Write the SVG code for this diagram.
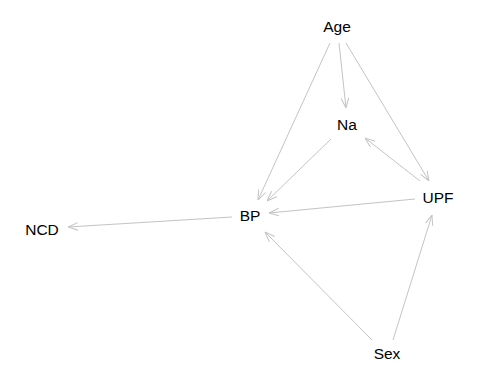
<svg xmlns="http://www.w3.org/2000/svg" width="480" height="384" viewBox="0 0 480 384">
  <style>
    .edge { stroke: #c4c4c4; stroke-width: 1; fill: none; marker-end: url(#arrow); }
    .label { font-family: "Liberation Sans", Arial, sans-serif; font-size: 15.5px; fill: #000; text-anchor: middle; }
  </style>
  <defs>
    <marker id="arrow" viewBox="0 0 10 10" refX="10" refY="5" markerWidth="10" markerHeight="10" markerUnits="userSpaceOnUse" orient="auto">
      <path d="M0,1.2 L10,5 L0,8.8" fill="none" stroke="#c4c4c4" stroke-width="1"/>
    </marker>
  </defs>
  <rect width="480" height="384" fill="#ffffff"/>
  <g id="connectors">
    <line class="edge" x1="330" y1="43" x2="258" y2="200"/>
    <line class="edge" x1="339" y1="43" x2="346" y2="108"/>
    <line class="edge" x1="346" y1="43" x2="429" y2="181"/>
    <line class="edge" x1="331" y1="139" x2="267" y2="201"/>
    <line class="edge" x1="420" y1="181" x2="365" y2="138"/>
    <line class="edge" x1="415" y1="199" x2="269" y2="213"/>
    <line class="edge" x1="232" y1="217" x2="68" y2="227"/>
    <line class="edge" x1="372" y1="340" x2="265" y2="232"/>
    <line class="edge" x1="393" y1="340" x2="432" y2="215"/>
  </g>
  <g id="Age"><text class="label" x="337" y="32">Age</text></g>
  <g id="Na"><text class="label" x="347" y="130">Na</text></g>
  <g id="UPF"><text class="label" x="438" y="203">UPF</text></g>
  <g id="BP"><text class="label" x="250" y="221">BP</text></g>
  <g id="NCD"><text class="label" x="42" y="235">NCD</text></g>
  <g id="Sex"><text class="label" x="387" y="359">Sex</text></g>
</svg>
